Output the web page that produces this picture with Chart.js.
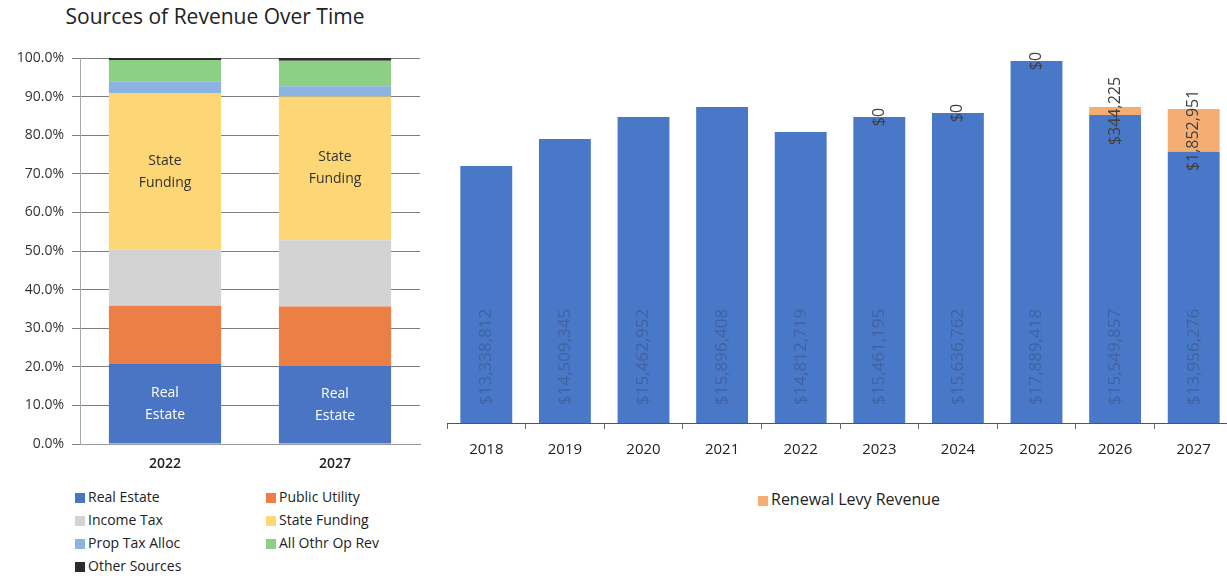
<!DOCTYPE html>
<html>
<head>
<meta charset="utf-8">
<script src="https://cdn.jsdelivr.net/npm/chart.js@4.4.1/dist/chart.umd.min.js"></script>
<style>
body{margin:0;width:1227px;height:578px;overflow:hidden;background:#fff;font-family:"Open Sans",sans-serif;position:relative}
#mixBox{position:absolute;left:0;top:0;width:430px;height:480px}
#trendBox{position:absolute;left:430px;top:0;width:810px;height:480px}
#title{position:absolute;left:0;top:2px;width:430px;text-align:center;font-size:21px;color:#222}
.leg{position:absolute;font-size:14px;color:#222;white-space:nowrap;line-height:18px}
.leg i{display:inline-block;width:10px;height:10px;margin-right:3px;vertical-align:-1px}
</style>
</head>
<body>
<div id="title">Sources of Revenue Over Time</div>
<div id="mixBox"><canvas id="mix"></canvas></div>
<div id="trendBox"><canvas id="trend"></canvas></div>
<div id="mixLegend"></div>
<div id="trendLegend"></div>
<script>
// left chart: share of revenue by source
const years = ["2022", "2027"];
const sources = ["Real Estate", "Public Utility", "Income Tax", "State Funding", "Prop Tax Alloc", "All Othr Op Rev", "Other Sources"];
const share2022 = [20.7, 15.1, 14.5, 40.5, 3.2, 5.5, 0.5];
const share2027 = [20.2, 15.4, 17.2, 37.2, 2.7, 6.6, 0.7];
const sourceColors = ["#4a74c4", "#ec7f45", "#d3d3d3", "#fdd776", "#8db3e2", "#8dcf84", "#2b2b2b"];
const insideText = ["Real Estate", "", "", "State Funding", "", "", ""];

// right chart: revenue by year
const fiscalYears = ["2018", "2019", "2020", "2021", "2022", "2023", "2024", "2025", "2026", "2027"];
const baseRevenue = [13338812, 14509345, 15462952, 15896408, 14812719, 15461195, 15636762, 17889418, 15549857, 13956276];
const levyRevenue = [null, null, null, null, null, 0, 0, 0, 344225, 1852951];

const money = v => "$" + v.toLocaleString("en-US");

const segLabels = {
  id: "segLabels",
  afterDatasetsDraw(chart) {
    const ctx = chart.ctx;
    ctx.save();
    ctx.font = "14px 'Open Sans'";
    ctx.textAlign = "center";
    ctx.textBaseline = "middle";
    insideText.forEach((txt, i) => {
      if (!txt) return;
      const words = txt.split(" ");
      chart.getDatasetMeta(i).data.forEach(bar => {
        const cy = (bar.y + bar.base) / 2;
        ctx.fillStyle = i === 0 ? "#ffffff" : "#333333";
        ctx.fillText(words[0], bar.x, cy - 11);
        ctx.fillText(words[1], bar.x, cy + 11);
      });
    });
    ctx.restore();
  }
};

const mixChart = new Chart(document.getElementById("mix"), {
  type: "bar",
  data: {
    labels: years,
    datasets: sources.map((s, i) => ({
      label: s,
      data: [share2022[i], share2027[i]],
      backgroundColor: sourceColors[i],
      barPercentage: 0.66,
      categoryPercentage: 1
    }))
  },
  options: {
    responsive: true,
    maintainAspectRatio: false,
    animation: false,
    layout: { padding: { top: 58, right: 10, left: 0, bottom: 0 } },
    plugins: { legend: { display: false }, tooltip: { enabled: false } },
    scales: {
      x: {
        stacked: true,
        afterFit: s => { s.height = 36; },
        grid: { drawOnChartArea: false, drawTicks: false },
        border: { color: "#9a9a9a" },
        ticks: { padding: 12, color: "#222", font: { family: "Open Sans", size: 14, weight: "600" } }
      },
      y: {
        stacked: true,
        min: 0,
        max: 100,
        afterFit: s => { s.width = 80; },
        grid: { color: "#7d7d7d", tickLength: 8 },
        border: { color: "#a8a8a8" },
        ticks: {
          stepSize: 10,
          padding: 8,
          color: "#333",
          font: { family: "Open Sans", size: 14 },
          callback: v => v.toFixed(1) + "%"
        }
      }
    }
  },
  plugins: [segLabels]
});

const barLabels = {
  id: "barLabels",
  afterDatasetsDraw(chart) {
    const ctx = chart.ctx;
    const bottom = chart.chartArea.bottom;
    ctx.save();
    chart.getDatasetMeta(0).data.forEach((bar, i) => {
      ctx.save();
      ctx.translate(bar.x, bottom - 18);
      ctx.rotate(-Math.PI / 2);
      ctx.font = "17px 'Open Sans'";
      ctx.fillStyle = "rgba(50,70,110,0.42)";
      ctx.textAlign = "left";
      ctx.textBaseline = "middle";
      ctx.fillText(money(baseRevenue[i]), 0, 0);
      ctx.restore();
    });
    chart.getDatasetMeta(1).data.forEach((bar, i) => {
      if (levyRevenue[i] == null) return;
      ctx.save();
      ctx.translate(bar.x, (bar.y + bar.base) / 2);
      ctx.rotate(-Math.PI / 2);
      ctx.font = "16px 'Open Sans'";
      ctx.fillStyle = "#404040";
      ctx.textAlign = "center";
      ctx.textBaseline = "middle";
      ctx.fillText(money(levyRevenue[i]), 0, 0);
      ctx.restore();
    });
    ctx.restore();
  }
};

const trendChart = new Chart(document.getElementById("trend"), {
  type: "bar",
  data: {
    labels: fiscalYears,
    datasets: [
      { label: "Operating Revenue", data: baseRevenue, backgroundColor: "#4a78c8", barPercentage: 0.66, categoryPercentage: 1 },
      { label: "Renewal Levy Revenue", data: levyRevenue, backgroundColor: "#f4ae74", barPercentage: 0.66, categoryPercentage: 1 }
    ]
  },
  options: {
    responsive: true,
    maintainAspectRatio: false,
    animation: false,
    layout: { padding: { top: 40, left: 17, right: 7, bottom: 0 } },
    plugins: { legend: { display: false }, tooltip: { enabled: false } },
    scales: {
      x: {
        stacked: true,
        afterFit: s => { s.height = 57; },
        grid: { offset: true, drawOnChartArea: false, tickLength: 6, color: "#666" },
        border: { color: "#555" },
        ticks: { padding: 12, color: "#222", font: { family: "Open Sans", size: 15 } }
      },
      y: { stacked: true, display: false, min: 2200000, max: 18800000 }
    }
  },
  plugins: [barLabels]
});

// legends
const mixLegend = document.getElementById("mixLegend");
sources.forEach((s, i) => {
  const d = document.createElement("div");
  d.className = "leg";
  d.style.left = (i % 2 === 0 ? 75 : 266) + "px";
  d.style.top = (488 + Math.floor(i / 2) * 23) + "px";
  d.innerHTML = '<i style="background:' + sourceColors[i] + '"></i>' + s;
  mixLegend.appendChild(d);
});
const trendLegend = document.getElementById("trendLegend");
trendChart.data.datasets.slice(1).forEach(ds => {
  const d = document.createElement("div");
  d.className = "leg";
  d.style.left = "758px";
  d.style.top = "490px";
  d.style.fontSize = "16px";
  d.innerHTML = '<i style="background:' + ds.backgroundColor + '"></i>' + ds.label;
  trendLegend.appendChild(d);
});
</script>
</body>
</html>
